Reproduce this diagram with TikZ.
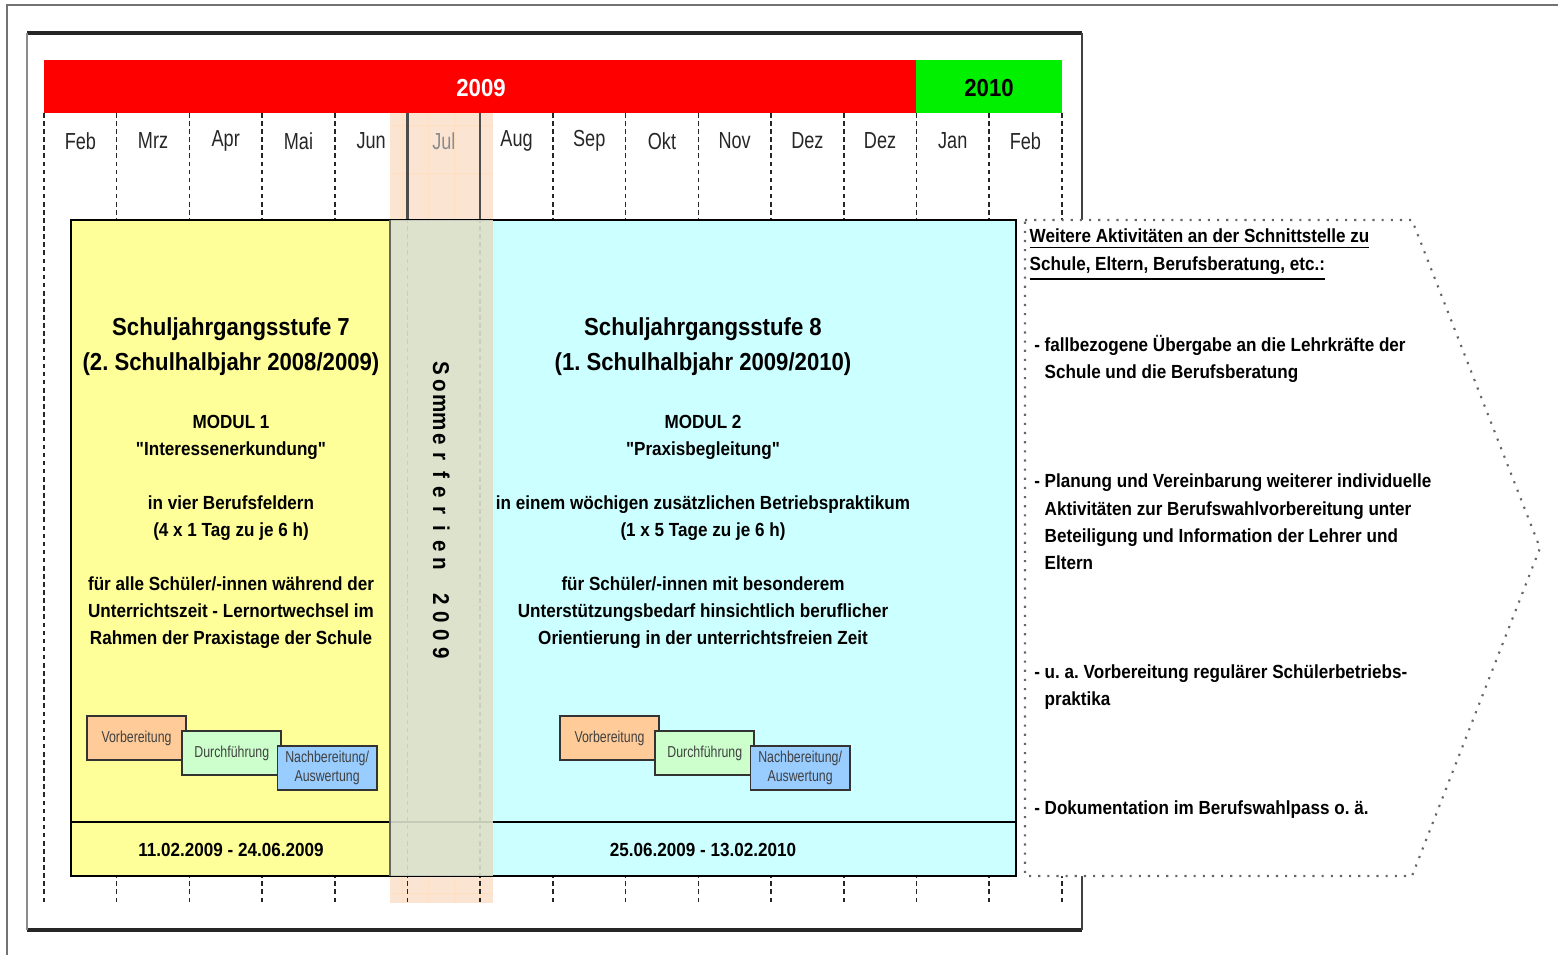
\documentclass[tikz,border=0pt]{standalone}
\usepackage{fontspec}
\setmainfont{Liberation Sans}[FakeStretch=0.9, Ligatures=TeXOff]
\newfontfamily\narrowfont{Liberation Sans}[FakeStretch=0.78]
\usetikzlibrary{positioning}
\frenchspacing

\definecolor{yearred}{RGB}{255,0,0}
\definecolor{yeargreen}{RGB}{0,240,0}
\definecolor{modyellow}{RGB}{255,255,153}
\definecolor{modcyan}{RGB}{204,255,255}
\definecolor{holidaypeach}{RGB}{252,228,210}
\definecolor{holidaybox}{RGB}{218,226,205}
\definecolor{prepfill}{RGB}{255,204,153}
\definecolor{runfill}{RGB}{204,255,204}
\definecolor{postfill}{RGB}{153,204,255}

\tikzset{
  monthline/.style={dash pattern=on 1.3pt off 1pt, line width=0.45pt, black!85},
  monthlabel/.style={font=\narrowfont\fontsize{6.6}{7}\selectfont},
  yeartext/.style={font=\bfseries\fontsize{7}{8}\selectfont},
  titletext/.style={align=center, font=\bfseries\fontsize{7}{10}\selectfont},
  bodytext/.style={align=center, font=\bfseries\fontsize{5.4}{7.7}\selectfont},
  stepbox/.style={draw=black!80, line width=0.5pt, minimum width=0.99cm, minimum height=0.44cm,
    inner sep=0pt, align=center, text=black!75, font=\narrowfont\fontsize{4.5}{5.2}\selectfont},
  sidetext/.style={anchor=west, align=left, inner sep=0pt, font=\bfseries\fontsize{5.4}{7.8}\selectfont},
  summertext/.style={rotate=-90, anchor=base, inner sep=0pt, font=\bfseries\fontsize{6.5}{6.5}\selectfont},
  gridline/.style={orange!25, line width=0.2pt},
}

\begin{document}
\begin{tikzpicture}[x=0.01cm, y=-0.01cm]
  \useasboundingbox (0,0) rectangle (1558,955);

  % outer and inner frame
  \draw[black!55, line width=0.6pt] (7,955) -- (7,5) -- (1558,5);
  \draw[black!85, line width=0.9pt] (27,33) -- (1082,33);
  \draw[black!85, line width=0.9pt] (27,930) -- (1082,930);
  \draw[black!75, line width=0.5pt] (1082,33) -- (1082,930);
  \draw[black!45, line width=0.3pt] (27,33) -- (27,930);

  % summer holiday stripe
  \fill[holidaypeach] (390,113) rectangle (493,903);
  \foreach \gx in {402,428,454,480}
    \draw[gridline] (\gx,113) -- (\gx,903);
  \foreach \gy in {125,173,...,893}
    \draw[gridline] (390,\gy) -- (493,\gy);

  % month grid
  \foreach \k in {0,...,14}
    \draw[monthline] ({44+72.7*\k},113) -- ({44+72.7*\k},903);
  \draw[black!70, line width=0.6pt] (407.5,113) -- (407.5,220);
  \draw[black!70, line width=0.6pt] (480.2,113) -- (480.2,220);

  % year bar
  \fill[yearred] (44,60) rectangle (916,113);
  \fill[yeargreen] (916,60) rectangle (1062,113);
  \node[yeartext, text=white] (year2009) at (481,88) {2009};
  \node[yeartext] (year2010) at (989,88) {2010};

  % months
  \foreach \m/\c [count=\i] in {Feb/black!85,Mrz/black!85,Apr/black!85,Mai/black!85,Jun/black!85,
      Jul/black!45,Aug/black!85,Sep/black!85,Okt/black!85,Nov/black!85,Dez/black!85,
      Dez/black!85,Jan/black!85,Feb/black!85}
    \node[monthlabel, text=\c] (month\i) at ({44+72.7*(\i-0.5)},141) {\m};

  % module boxes
  \fill[modyellow] (71,220) rectangle (390,876);
  \fill[modcyan] (493,220) rectangle (1016,876);
  \draw[black, line width=0.8pt] (71,220) rectangle (1016,876);
  \draw[black, line width=0.8pt] (71,822) -- (1016,822);
  \fill[holidaybox, fill opacity=0.9] (390,220) rectangle (493,876);
  \draw[black!60, line width=0.4pt] (390,220) -- (390,876);

  \foreach \c [count=\i] in {S,o,m,m,e,r,f,e,r,i,e,n,{},2,0,0,9}
    \node[summertext] (summer\i) at (433,{368+17.8*(\i-1)}) {\c};

  % module 1
  \node[titletext] (title1) at (231,347) {Schuljahrgangsstufe 7\\(2. Schulhalbjahr 2008/2009)};
  \node[bodytext] (body1) at (231,532) {MODUL 1\\"Interessenerkundung"\\[7.7pt]
    in vier Berufsfeldern\\(4 x 1 Tag zu je 6 h)\\[7.7pt]
    für alle Schüler/-innen während der\\Unterrichtszeit - Lernortwechsel im\\Rahmen der Praxistage der Schule};
  \node[stepbox, fill=prepfill] (prep1) at (136.5,738) {Vorbereitung};
  \node[stepbox, fill=runfill, right=-0.055cm of prep1, yshift=-0.15cm] (run1) {Durchführung};
  \node[stepbox, fill=postfill, right=-0.055cm of run1, yshift=-0.15cm] (post1) {Nachbereitung/\\Auswertung};
  \node[bodytext] (date1) at (231,850) {11.02.2009 - 24.06.2009};

  % module 2
  \node[titletext] (title2) at (703,347) {Schuljahrgangsstufe 8\\(1. Schulhalbjahr 2009/2010)};
  \node[bodytext] (body2) at (703,532) {MODUL 2\\"Praxisbegleitung"\\[7.7pt]
    in einem wöchigen zusätzlichen Betriebspraktikum\\(1 x 5 Tage zu je 6 h)\\[7.7pt]
    für Schüler/-innen mit besonderem\\Unterstützungsbedarf hinsichtlich beruflicher\\Orientierung in der unterrichtsfreien Zeit};
  \node[stepbox, fill=prepfill] (prep2) at (609.5,738) {Vorbereitung};
  \node[stepbox, fill=runfill, right=-0.055cm of prep2, yshift=-0.15cm] (run2) {Durchführung};
  \node[stepbox, fill=postfill, right=-0.055cm of run2, yshift=-0.15cm] (post2) {Nachbereitung/\\Auswertung};
  \node[bodytext] (date2) at (703,850) {25.06.2009 - 13.02.2010};

  % further activities
  \draw[black!60, dotted, line width=0.6pt, fill=white]
    (1025,220) -- (1412,220) -- (1540,548) -- (1412,876) -- (1025,876) -- cycle;
  \node[sidetext] (sidehead) at (1029,255) {\underline{Weitere Aktivitäten an der Schnittstelle zu}\\
    \underline{Schule, Eltern, Berufsberatung, etc.:}};
  \node[sidetext] (item1) at (1044,359) {\llap{- }fallbezogene Übergabe an die Lehrkräfte der\\
    Schule und die Berufsberatung};
  \node[sidetext] (item2) at (1044,522) {\llap{- }Planung und Vereinbarung weiterer individuelle\\
    Aktivitäten zur Berufswahlvorbereitung unter\\Beteiligung und Information der Lehrer und\\Eltern};
  \node[sidetext] (item3) at (1044,687) {\llap{- }u. a. Vorbereitung regulärer Schülerbetriebs-\\praktika};
  \node[sidetext] (item4) at (1044,810) {\llap{- }Dokumentation im Berufswahlpass o. ä.};
\end{tikzpicture}
\end{document}
